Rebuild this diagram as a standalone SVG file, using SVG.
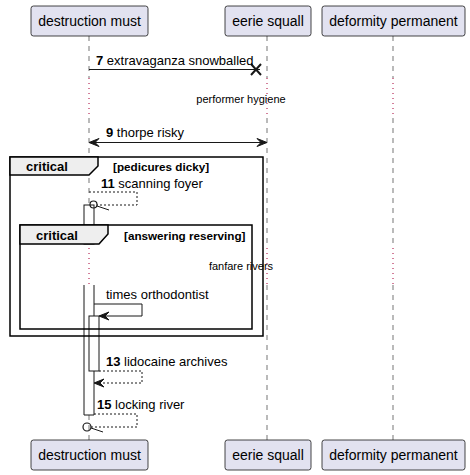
<svg xmlns="http://www.w3.org/2000/svg" width="470" height="475" viewBox="0 0 470 475">
<style>
.pbox{fill:#E2E2F0;stroke:#181818;stroke-width:0.8}
.ptxt{font-family:"Liberation Sans",Arial,sans-serif;font-size:14px;fill:#000}
.life{stroke:#181818;stroke-width:0.6;stroke-dasharray:5,5;fill:none}
.dot{stroke:#A80036;stroke-width:1;stroke-dasharray:1,4;fill:none}
.msg{font-family:"Liberation Sans",Arial,sans-serif;font-size:13px;fill:#000}
.num{font-weight:bold}
.delay{font-family:"Liberation Sans",Arial,sans-serif;font-size:11px;fill:#000}
.line{stroke:#181818;stroke-width:1;fill:none}
.dash{stroke:#181818;stroke-width:1;stroke-dasharray:2,2;fill:none}
.frame{stroke:#000;stroke-width:1.5;fill:none}
.tab{fill:#EEEEEE;stroke:#000;stroke-width:1.5}
.ftxt{font-family:"Liberation Sans",Arial,sans-serif;font-size:13px;font-weight:bold;fill:#000}
.gtxt{font-family:"Liberation Sans",Arial,sans-serif;font-size:11.7px;font-weight:bold;fill:#000}
.bar{fill:#FFFFFF;stroke:#181818;stroke-width:1}
.head{fill:#181818;stroke:#181818;stroke-width:1}
</style>
<g id="lifelines">
<path class="life" d="M89,36 V78 M89,118 V248 M89,285 V440"/>
<path class="dot" d="M89,78 V118 M89,248 V285"/>
<path class="life" d="M267,36 V78 M267,118 V248 M267,285 V440"/>
<path class="dot" d="M267,78 V118 M267,248 V285"/>
<path class="life" d="M393,36 V78 M393,118 V248 M393,285 V440"/>
<path class="dot" d="M393,78 V118 M393,248 V285"/>
</g>
<g id="activations">
<rect class="bar" x="84" y="205" width="10" height="39"/>
<rect x="84" y="285" width="10" height="130" fill="#FFFFFF"/>
<path class="line" d="M84,285 V415 H94 V285"/>
<rect class="bar" x="89" y="316" width="10" height="55"/>
</g>
<g id="p1"><rect class="pbox" x="31" y="6" width="117" height="30" rx="2.5"/><text class="ptxt" x="89.5" y="26" text-anchor="middle">destruction must</text></g>
<g id="p2"><rect class="pbox" x="225" y="6" width="86" height="30" rx="2.5"/><text class="ptxt" x="268" y="26" text-anchor="middle">eerie squall</text></g>
<g id="p3"><rect class="pbox" x="322" y="6" width="143" height="30" rx="2.5"/><text class="ptxt" x="393.5" y="26" text-anchor="middle">deformity permanent</text></g>
<g id="p1b"><rect class="pbox" x="31" y="440" width="117" height="30" rx="2.5"/><text class="ptxt" x="89.5" y="460" text-anchor="middle">destruction must</text></g>
<g id="p2b"><rect class="pbox" x="225" y="440" width="86" height="30" rx="2.5"/><text class="ptxt" x="268" y="460" text-anchor="middle">eerie squall</text></g>
<g id="p3b"><rect class="pbox" x="322" y="440" width="143" height="30" rx="2.5"/><text class="ptxt" x="393.5" y="460" text-anchor="middle">deformity permanent</text></g>
<g id="frame-outer">
<rect class="frame" x="10" y="157" width="253" height="179"/>
<polygon class="tab" points="10,157 98,157 98,166 89,175 10,175"/>
<text class="ftxt" x="26" y="171">critical</text>
<text class="gtxt" x="113" y="171">[pedicures dicky]</text>
</g>
<g id="frame-inner">
<rect class="frame" x="20" y="225" width="232" height="104"/>
<polygon class="tab" points="20,225 108,225 108,234 99,244 20,244"/>
<text class="ftxt" x="36" y="240">critical</text>
<text class="gtxt" x="124" y="240">[answering reserving]</text>
</g>
<g id="connectors">
<path class="line" d="M89,69.5 H260"/>
<path d="M251,64 L261,75 M251,75 L261,64" stroke="#181818" stroke-width="2"/>
<text class="msg" x="96" y="65"><tspan class="num">7</tspan> extravaganza snowballed</text>
<text class="delay" x="241" y="103" text-anchor="middle">performer hygiene</text>
<path class="line" d="M90,142.5 H266"/>
<polygon class="head" points="89,142.5 99,138.5 95,142.5 99,146.5"/>
<polygon class="head" points="267,142.5 257,138.5 261,142.5 257,146.5"/>
<text class="msg" x="106" y="137"><tspan class="num">9</tspan> thorpe risky</text>
<path class="dash" d="M89,192 H137 V205 H97"/>
<circle cx="93.5" cy="204.5" r="3.5" fill="none" stroke="#181818" stroke-width="1.2"/>
<path class="line" d="M97,206 L109,210"/>
<text class="msg" x="101" y="188"><tspan class="num">11</tspan> scanning foyer</text>
<text class="delay" x="241" y="270" text-anchor="middle">fanfare rivers</text>
<path class="line" d="M94,304 H142 V316 H100"/>
<polygon class="head" points="99,316 109,312 105,316 109,320"/>
<text class="msg" x="106" y="299">times orthodontist</text>
<path class="dash" d="M99,371 H142 V383 H95"/>
<polygon class="head" points="94,383 104,379 100,383 104,387"/>
<text class="msg" x="106" y="366"><tspan class="num">13</tspan> lidocaine archives</text>
<path class="dash" d="M94,414 H137 V427 H91"/>
<circle cx="87" cy="427" r="4" fill="none" stroke="#181818" stroke-width="1.2"/>
<path class="line" d="M91,428 L103,432"/>
<text class="msg" x="97" y="409"><tspan class="num">15</tspan> locking river</text>
</g>
</svg>
